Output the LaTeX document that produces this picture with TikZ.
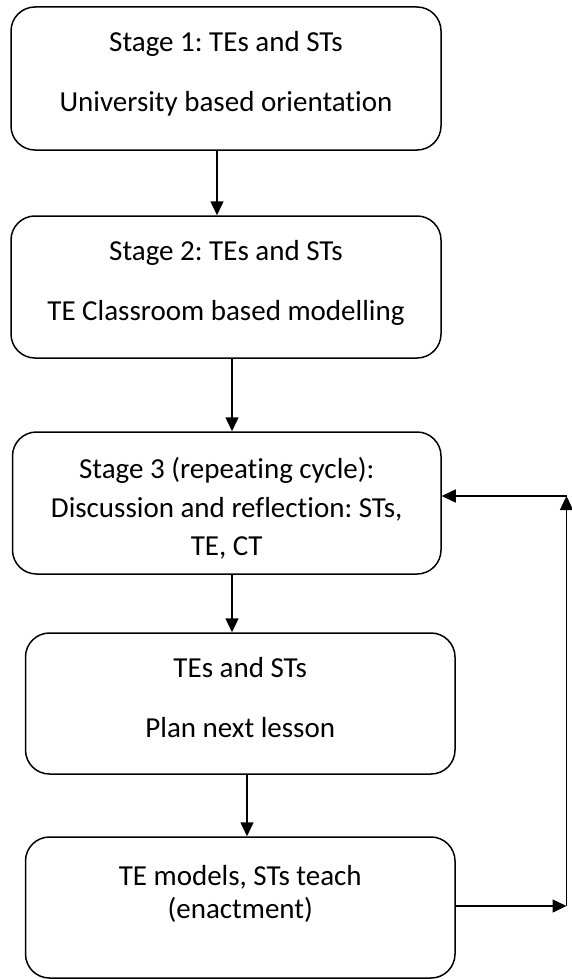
\documentclass[tikz,border=0pt]{standalone}
\usepackage{fontspec}
\setmainfont[Ligatures={NoCommon}]{Carlito}
\usetikzlibrary{arrows.meta}
\frenchspacing
\tikzset{
  box/.style={draw, line width=1.5pt, rounded corners=24pt, inner sep=0pt},
  txt/.style={anchor=base, inner sep=0pt, font=\fontsize{29}{36}\selectfont},
  arr/.style={line width=1.5pt, -{Triangle[length=14pt,width=13pt]}}
}
\begin{document}
\begin{tikzpicture}[x=1pt,y=-1pt]
\useasboundingbox (0,0) rectangle (571,979);
% boxes
\node[box, minimum width=430pt, minimum height=143pt] (b1) at (226,78.5) {};
\node[box, minimum width=430pt, minimum height=142pt] (b2) at (226,287) {};
\node[box, minimum width=428.5pt, minimum height=142pt] (b3) at (226.75,503) {};
\node[box, minimum width=429.5pt, minimum height=141pt] (b4) at (240.25,703.5) {};
\node[box, minimum width=429.5pt, minimum height=141pt] (b5) at (240.25,907.5) {};
% texts
\node[txt] (t1a) at (226,52) {Stage 1: TEs and STs};
\node[txt] (t1b) at (226,112) {University based orientation};
\node[txt] (t2a) at (226,260) {Stage 2: TEs and STs};
\node[txt] (t2b) at (226,320) {TE Classroom based modelling};
\node[txt] (t3a) at (226.75,478) {Stage 3 (repeating cycle):};
\node[txt] (t3b) at (226.75,517) {Discussion and reflection: STs,};
\node[txt] (t3c) at (226.75,555) {TE, CT};
\node[txt] (t4a) at (240.25,677) {TEs and STs};
\node[txt] (t4b) at (240.25,737) {Plan next lesson};
\node[txt] (t5a) at (240.25,885) {TE models, STs teach};
\node[txt] (t5b) at (240.25,918) {(enactment)};
% feedback corners
\coordinate (c1) at (566.5,906);
\coordinate (c2) at (566.5,496);
% connectors
\draw[arr] ([xshift=-9pt]b1.south) -- ([xshift=-9pt]b1.south |- b2.north);
\draw[arr] ([xshift=6pt]b2.south) -- ([xshift=6pt]b2.south |- b3.north);
\draw[arr] ([xshift=5.25pt]b3.south) -- ([xshift=5.25pt]b3.south |- b4.north);
\draw[arr] ([xshift=6.75pt]b4.south) -- ([xshift=6.75pt]b4.south |- b5.north);
\draw[arr] (b5.east |- c1) -- (c1);
\draw[arr] (c1) -- (c2);
\draw[arr] (c2) -- (c2 -| b3.east);
\end{tikzpicture}
\end{document}
